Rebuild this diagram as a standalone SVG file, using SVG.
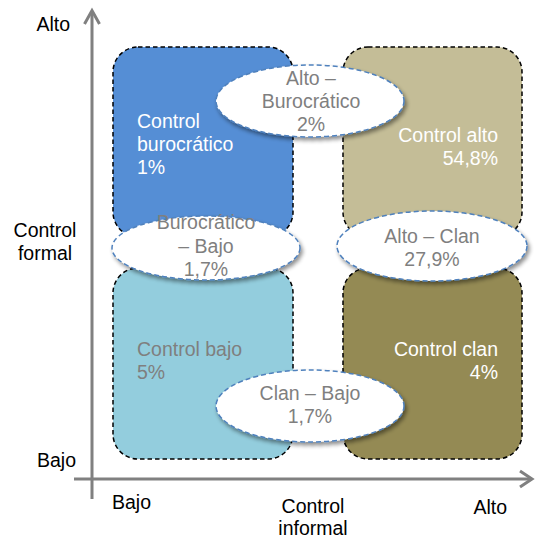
<svg xmlns="http://www.w3.org/2000/svg" width="535" height="541" viewBox="0 0 535 541">
  <style>
    text { font-family: "Liberation Sans", Arial, sans-serif; font-size: 19.5px; }
    .axis-label { fill: #000000; }
    .box { stroke: #000000; stroke-width: 1.5; stroke-dasharray: 4.5 3; }
    .bubble { fill: #ffffff; stroke: #4F81BD; stroke-width: 1.5; stroke-dasharray: 5 3; filter: url(#shadow); }
    .bubble-text { fill: #7F7F7F; text-anchor: middle; }
    .white { fill: #ffffff; }
    .gray { fill: #7F7F7F; }
    .axis { stroke: #808080; stroke-width: 3; fill: none; }
  </style>
  <defs>
    <filter id="shadow" x="-20%" y="-30%" width="140%" height="170%">
      <feGaussianBlur in="SourceAlpha" stdDeviation="2"/>
      <feOffset dx="2" dy="3" result="blur"/>
      <feComponentTransfer><feFuncA type="linear" slope="0.45"/></feComponentTransfer>
      <feMerge><feMergeNode/><feMergeNode in="SourceGraphic"/></feMerge>
    </filter>
  </defs>
  <rect width="535" height="541" fill="#ffffff"/>

  <!-- axes -->
  <g id="axes">
    <line class="axis" x1="92" y1="11" x2="92" y2="499"/>
    <polyline class="axis" points="84.5,24 92,10.5 99.5,24"/>
    <line class="axis" x1="74" y1="479" x2="532" y2="479"/>
    <polyline class="axis" points="520,471 532,479 520,487"/>
  </g>

  <!-- axis labels -->
  <g id="axis-labels" class="axis-label">
    <text x="70" y="31" text-anchor="end">Alto</text>
    <text x="45" y="237" text-anchor="middle">Control</text>
    <text x="45" y="260" text-anchor="middle">formal</text>
    <text x="76" y="467" text-anchor="end">Bajo</text>
    <text x="112" y="509">Bajo</text>
    <text x="313" y="513" text-anchor="middle">Control</text>
    <text x="313" y="535" text-anchor="middle">informal</text>
    <text x="507" y="514" text-anchor="end">Alto</text>
  </g>

  <!-- quadrants -->
  <g id="control-burocratico">
    <rect class="box" x="113" y="47" width="180" height="190" rx="25" fill="#558ED5"/>
    <text class="white" x="137" y="128">Control</text>
    <text class="white" x="137" y="151">burocrático</text>
    <text class="white" x="137" y="174">1%</text>
  </g>
  <g id="control-alto">
    <rect class="box" x="343" y="47" width="179" height="190" rx="25" fill="#C4BD97"/>
    <text class="white" x="498" y="142" text-anchor="end">Control alto</text>
    <text class="white" x="498" y="165" text-anchor="end">54,8%</text>
  </g>
  <g id="control-bajo">
    <rect class="box" x="113" y="268" width="180" height="191" rx="25" fill="#93CDDD"/>
    <text class="gray" x="137" y="356">Control bajo</text>
    <text class="gray" x="137" y="379">5%</text>
  </g>
  <g id="control-clan">
    <rect class="box" x="343" y="268" width="179" height="191" rx="25" fill="#948A54"/>
    <text class="white" x="498" y="356" text-anchor="end">Control clan</text>
    <text class="white" x="498" y="379" text-anchor="end">4%</text>
  </g>

  <!-- transition bubbles -->
  <g id="alto-burocratico">
    <ellipse class="bubble" cx="310" cy="101" rx="94" ry="36"/>
    <text class="bubble-text" x="311" y="85">Alto –</text>
    <text class="bubble-text" x="311" y="108">Burocrático</text>
    <text class="bubble-text" x="311" y="131">2%</text>
  </g>
  <g id="burocratico-bajo">
    <ellipse class="bubble" cx="206" cy="248" rx="94" ry="32"/>
    <text class="bubble-text" x="206" y="229">Burocrático</text>
    <text class="bubble-text" x="206" y="253">– Bajo</text>
    <text class="bubble-text" x="206" y="276">1,7%</text>
  </g>
  <g id="alto-clan">
    <ellipse class="bubble" cx="432" cy="246" rx="95" ry="35"/>
    <text class="bubble-text" x="432" y="243">Alto – Clan</text>
    <text class="bubble-text" x="432" y="266">27,9%</text>
  </g>
  <g id="clan-bajo">
    <ellipse class="bubble" cx="310" cy="406" rx="94" ry="36"/>
    <text class="bubble-text" x="310" y="400">Clan – Bajo</text>
    <text class="bubble-text" x="310" y="423">1,7%</text>
  </g>
</svg>
